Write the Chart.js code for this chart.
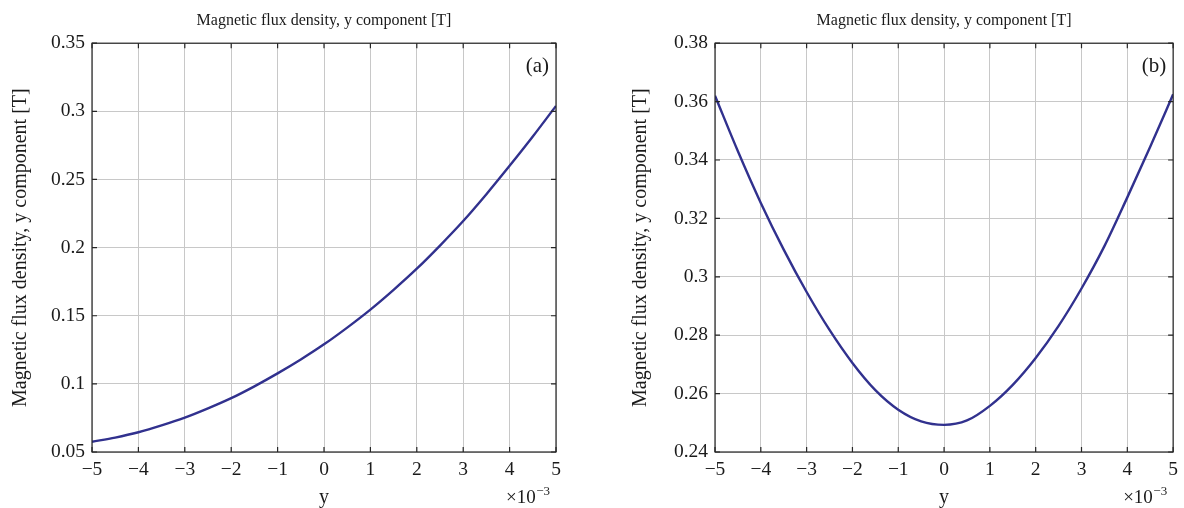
<!DOCTYPE html>
<html><head><meta charset="utf-8">
<script src="https://cdn.jsdelivr.net/npm/chart.js@4.4.0/dist/chart.umd.min.js"></script>
<style>html,body{margin:0;padding:0;background:#fff;}#wrap{position:relative;width:1184px;height:508px;}canvas{position:absolute;top:0;}</style>
</head><body><div id="wrap"><canvas id="ca" width="592" height="508" style="left:0"></canvas><canvas id="cb" width="592" height="508" style="left:592px"></canvas></div>
<script>
// y position in units of 1e-3
const positions = [-5,-4.5,-4,-3.5,-3,-2.5,-2,-1.5,-1,-0.5,0,0.5,1,1.5,2,2.5,3,3.5,4,4.5,5];
const fluxA = [0.0575,0.0606,0.0645,0.0695,0.0752,0.0820,0.0895,0.0982,0.1077,0.1179,0.1290,0.1413,0.1545,0.1690,0.1845,0.2015,0.2195,0.2392,0.2600,0.2815,0.3040];
const fluxB = [0.3620,0.3430,0.3253,0.3093,0.2948,0.2818,0.2705,0.2612,0.2545,0.2505,0.2493,0.2508,0.2558,0.2630,0.2722,0.2832,0.2960,0.3105,0.3272,0.3445,0.3625];
const xTicks = [-5,-4,-3,-2,-1,0,1,2,3,4,5];
const yTicksA = [0.05,0.1,0.15,0.2,0.25,0.3,0.35];
const yTicksB = [0.24,0.26,0.28,0.3,0.32,0.34,0.36,0.38];
const titleText = 'Magnetic flux density, y component [T]';
const yAxisLabel = 'Magnetic flux density, y component [T]';
const xAxisLabel = 'y';
const panelLabels = ['(a)','(b)'];
const FONT = '"Liberation Serif", "Times New Roman", serif';

const framePlugin = {
  id:'frame',
  afterDraw(chart, args, opts){
    const {ctx, chartArea:a, scales:{x,y}} = chart;
    ctx.save();
    ctx.strokeStyle='#262626'; ctx.lineWidth=1.2;
    ctx.strokeRect(a.left, a.top, a.right-a.left, a.bottom-a.top);
    const L=5;
    ctx.beginPath();
    x.ticks.forEach(t=>{const px=x.getPixelForValue(t.value);
      ctx.moveTo(px,a.bottom); ctx.lineTo(px,a.bottom-L);
      ctx.moveTo(px,a.top); ctx.lineTo(px,a.top+L);});
    y.ticks.forEach(t=>{const py=y.getPixelForValue(t.value);
      ctx.moveTo(a.left,py); ctx.lineTo(a.left+L,py);
      ctx.moveTo(a.right,py); ctx.lineTo(a.right-L,py);});
    ctx.stroke();
    ctx.fillStyle='#1a1a1a'; ctx.textAlign='left'; ctx.textBaseline='alphabetic';
    ctx.font='19px '+FONT;
    const ex = a.right-50;
    ctx.fillText('\u00d710', ex, 503);
    const w = ctx.measureText('\u00d710').width;
    ctx.font='13px '+FONT;
    ctx.fillText('\u22123', ex+w+0.5, 495);
    ctx.font='21px '+FONT; ctx.textAlign='right';
    ctx.fillText(opts.label, a.right-7, a.top+29);
    ctx.restore();
  }
};

function fmtY(v){ return String(Number(v.toFixed(3))); }

function makeChart(id, data, yTicks, yMin, yMax, label, padLeft, padRight, yWidth){
  return new Chart(document.getElementById(id), {
    type:'line',
    data:{datasets:[{data: positions.map((p,i)=>({x:p,y:data[i]})), borderColor:'#31318e', borderWidth:2.4, pointRadius:0, cubicInterpolationMode:'monotone', fill:false}]},
    options:{
      responsive:false, animation:false, devicePixelRatio:1,
      layout:{padding:{left:padLeft,right:padRight,top:0,bottom:0}},
      plugins:{
        legend:{display:false}, tooltip:{enabled:false},
        title:{display:true, text:titleText, fullSize:false, color:'#1a1a1a', font:{family:FONT,size:16,weight:'normal'}, padding:{top:11,bottom:13}},
        frame:{label}
      },
      scales:{
        x:{type:'linear', min:-5, max:5,
          afterBuildTicks:s=>{s.ticks=xTicks.map(v=>({value:v}));},
          afterFit:s=>{s.height=56;},
          grid:{color:'#c8c8c8', lineWidth:1, drawTicks:false},
          border:{display:false},
          ticks:{padding:6, color:'#1a1a1a', font:{family:FONT,size:19.5}, maxRotation:0, autoSkip:false, callback:v=>String(v).replace('-','\u2212')},
          title:{display:true, text:xAxisLabel, color:'#1a1a1a', font:{family:FONT,size:20}, padding:{top:0,bottom:-2}}
        },
        y:{type:'linear', min:yMin, max:yMax,
          afterBuildTicks:s=>{s.ticks=yTicks.map(v=>({value:v}));},
          afterFit:s=>{s.width=yWidth;},
          grid:{color:'#c8c8c8', lineWidth:1, drawTicks:false},
          border:{display:false},
          ticks:{padding:7, color:'#1a1a1a', font:{family:FONT,size:19.5}, autoSkip:false, callback:v=>fmtY(v)},
          title:{display:true, text:yAxisLabel, color:'#1a1a1a', font:{family:FONT,size:20}, padding:{top:9,bottom:0}}
        }
      }
    },
    plugins:[framePlugin]
  });
}
makeChart('ca', fluxA, yTicksA, 0.05, 0.35, panelLabels[0], 0, 36, 92);
makeChart('cb', fluxB, yTicksB, 0.24, 0.38, panelLabels[1], 28, 7, 95);
</script></body></html>
